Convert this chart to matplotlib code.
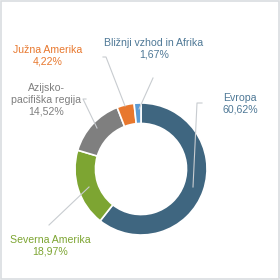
import matplotlib
matplotlib.use("Agg")
import matplotlib.pyplot as plt
import numpy as np

categories = ["Evropa", "Severna Amerika", "Azijsko-\npacifiška regija", "Južna Amerika", "Bližnji vzhod in Afrika"]
values = [60.62, 18.97, 14.52, 4.22, 1.67]
value_labels = ["60,62%", "18,97%", "14,52%", "4,22%", "1,67%"]
colors = ["#3f6680", "#7da532", "#7f7f7f", "#e8782e", "#5b9bd5"]
text_colors = ["#4e7896", "#7da532", "#7f7f7f", "#e8782e", "#4e7896"]

W, H = 280, 280
fig = plt.figure(figsize=(2.8, 2.8), dpi=100)
fig.patch.set_facecolor("white")

def px(x, y):
    return x / W, 1 - y / H

# frame
fig.patches.append(plt.Rectangle((0.002, 0.002), 0.996, 0.996, transform=fig.transFigure,
                                 fill=False, edgecolor="#d9dde0", linewidth=1.2))

cx, cy, r = 141, 169, 66
ax = fig.add_axes([(cx - r) / W, 1 - (cy + r) / H, 2 * r / W, 2 * r / H])
ax.pie(values, colors=colors, startangle=90, counterclock=False,
       wedgeprops=dict(width=0.31, edgecolor="white", linewidth=1.2))
ax.set_xlim(-1, 1); ax.set_ylim(-1, 1)
ax.set_aspect("equal")
ax.axis("off")

# labels (pixel positions in figure)
label_pos = [(240, 104), (50, 246), (46, 100), (48, 56), (154, 49)]
for (x, y), c, v, tc in zip(label_pos, categories, value_labels, text_colors):
    fx, fy = px(x, y)
    fig.text(fx, fy, f"{c}\n{v}", ha="center", va="center", color=tc,
             fontsize=7.6, linespacing=1.22, family="Liberation Sans")

# leader lines
lines = [
    [(202, 103), (197, 103), (193, 187)],
    [(49, 225), (89, 187)],
    [(86, 99), (83, 99), (97, 128)],
    [(103, 57), (106, 57), (125, 106)],
    [(153, 78), (139, 109)],
]
for pts in lines:
    xs = [p[0] / W for p in pts]
    ys = [1 - p[1] / H for p in pts]
    fig.add_artist(plt.Line2D(xs, ys, transform=fig.transFigure, color="#c8ccd0", linewidth=0.8))

fig.savefig("out.png", dpi=100, facecolor="white")
